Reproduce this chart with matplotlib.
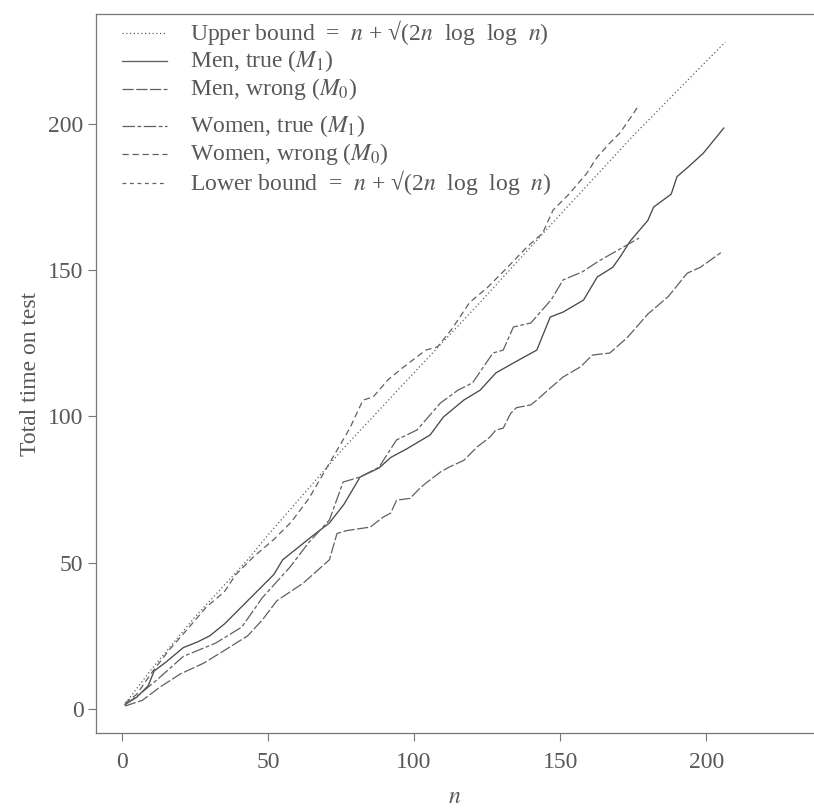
import matplotlib
matplotlib.use("Agg")
import matplotlib.pyplot as plt
from matplotlib.lines import Line2D

# Total-time-on-test curves against n, with the upper boundary line
upper_n = [2, 10, 25, 43, 50, 75.7, 100, 122.6, 150, 175, 206.5]
upper_t = [3, 13.5, 31.5, 51, 59.5, 89, 115, 139, 169, 196, 228]

men_true_n = [1, 5, 9, 11, 15, 21, 26, 30, 35, 39, 46, 52, 55, 60, 65, 71, 76, 81.5, 88, 92,
              97.6, 105.5, 110, 117, 122.6, 128, 134, 142, 146.6, 151, 158, 162.7, 168,
              170.5, 174, 180, 182, 188, 190, 193.5, 199, 206]
men_true_t = [1.5, 4, 8, 13, 16, 21, 23, 25, 29, 33, 40, 46, 51, 55, 59, 63.6, 70, 79.3, 82.4, 86,
              89, 93.7, 99.8, 105.6, 109, 114.9, 118.3, 122.7, 134, 135.7, 139.8, 147.7, 151,
              154.5, 160, 167, 171.6, 176, 182, 185, 190, 198.6]

men_wrong_n = [1, 7, 13, 20, 28, 35, 43, 48, 53, 62, 71, 73.6, 77, 85, 89.4, 92, 94, 98.6, 102,
               104, 109, 112, 117, 121.6, 126, 128, 130.5, 133, 135, 140, 142, 146.6, 151, 157,
               161, 167, 173, 180, 187, 193.5, 198, 205]
men_wrong_t = [1, 3, 7.5, 12, 15.7, 20, 25, 30.4, 37, 43, 51, 60, 61, 62.2, 65.6, 67, 71.4, 72,
               75.5, 77.2, 81, 82.7, 85, 89.6, 93, 95.4, 96, 101, 103, 104, 105.6, 109.7, 113.5,
               117, 121, 121.7, 127, 135, 141, 149, 151, 156]

women_true_n = [1, 6, 12, 21, 32, 41, 48, 57.5, 64, 71, 75.7, 81.5, 88, 94, 101, 109, 115, 120,
                127, 130.5, 134, 140, 147, 151, 157.5, 163, 170, 177]
women_true_t = [1.5, 5, 10, 18, 22.5, 28, 38, 48.5, 57, 64.6, 77.6, 79.3, 82.7, 92, 95.4, 104.6,
                109, 111.5, 121.7, 122.7, 130.6, 132, 140, 146.7, 149.4, 153, 157, 161]

women_wrong_n = [1, 5, 10.6, 16, 23, 29, 35, 39, 45, 52, 58, 64, 71, 78, 82.5, 86, 91, 96, 104,
                 108, 113, 119, 125, 131, 138.7, 144, 147.6, 153, 159, 162.7, 167, 170.5, 174, 177]
women_wrong_t = [2, 5, 13, 20, 28, 35, 40, 46, 52, 58, 64, 72, 84, 96, 105.6, 106.7, 112.5, 116.6,
                 122.7, 123.8, 130, 139, 144, 150, 158, 162.7, 170.6, 176, 183, 188.7, 193.5, 197,
                 202, 206.5]

x_ticks = [0, 50, 100, 150, 200]
y_ticks = [0, 50, 100, 150, 200]

plt.rcParams["font.family"] = ["Liberation Serif", "DejaVu Serif"]
plt.rcParams["mathtext.fontset"] = "stix"

ink = "#606060"
text_ink = "#585858"
fig = plt.figure(figsize=(8.14, 8.11), dpi=100)
ax = fig.add_axes([96 / 814, (811 - 733) / 811, (814 - 96) / 814, 719 / 811])

styles = {
    "upper": dict(ls=(0, (1, 2)), lw=0.9),
    "men_true": dict(ls="-", lw=0.95),
    "men_wrong": dict(ls=(0, (9, 2)), lw=0.9),
    "women_true": dict(ls=(0, (10, 2, 3, 2)), lw=0.9),
    "women_wrong": dict(ls=(0, (5, 3)), lw=0.9),
    "lower": dict(ls=(0, (3, 3)), lw=0.9),
}

ax.plot(upper_n, upper_t, color=ink, **styles["upper"])
ax.plot(men_true_n, men_true_t, color="#4a4a4a", **styles["men_true"])
ax.plot(men_wrong_n, men_wrong_t, color=ink, **styles["men_wrong"])
ax.plot(women_true_n, women_true_t, color=ink, **styles["women_true"])
ax.plot(women_wrong_n, women_wrong_t, color=ink, **styles["women_wrong"])

ax.set_xlim(-8.9, 236.9)
ax.set_ylim(-8.2, 237.6)
ax.set_xticks(x_ticks)
ax.set_yticks(y_ticks)

for side in ("left", "bottom", "top"):
    ax.spines[side].set_color("#777777")
    ax.spines[side].set_linewidth(0.9)
ax.spines["right"].set_visible(False)
ax.tick_params(direction="out", length=6, width=0.8, color="#777777",
               labelcolor=text_ink, labelsize=17)
ax.tick_params(axis="x", pad=8)
ax.tick_params(axis="y", pad=3)

ax.set_xlabel(r"$n$", fontsize=17, color=text_ink, labelpad=10)
ax.set_ylabel("Total time on test", fontsize=17, color=text_ink, labelpad=5)

# Key, drawn by hand so each row keeps its own spacing
key_rows = [
    ("upper", r"Upper bound  =  $n$ + √(2$n$  log  log  $n$)", 0.9736),
    ("men_true", r"Men, true ($M_1$)", 0.9346),
    ("men_wrong", r"Men, wrong ($M_0$)", 0.8957),
    ("women_true", r"Women, true ($M_1$)", 0.8442),
    ("women_wrong", r"Women, wrong ($M_0$)", 0.8053),
    ("lower", r"Lower bound  =  $n$ + √(2$n$  log  log  $n$)", 0.7650),
]
for key, label, y in key_rows:
    ax.add_line(Line2D([0.036, 0.099], [y, y], transform=ax.transAxes,
                       color=ink, **styles[key]))
    ax.text(0.131, y, label, transform=ax.transAxes, va="center", ha="left",
            fontsize=17, color=text_ink)

fig.savefig("out.png", dpi=100)
